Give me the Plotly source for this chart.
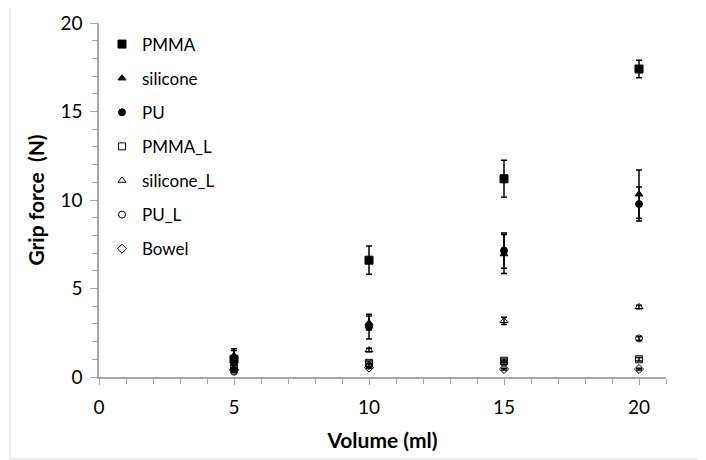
import plotly.graph_objects as go

volume = [5, 10, 15, 20]
pmma = [1.0, 6.6, 11.2, 17.4]
pmma_err = [0.6, 0.8, 1.05, 0.5]
silicone = [1.2, 3.05, 6.95, 10.33]
silicone_err = [0.3, 0.4, 1.1, 1.36]
pu = [0.8, 2.84, 7.14, 9.77]
pu_err = [0.3, 0.7, 1.0, 0.96]
pmma_l = [0.6, 0.8, 0.92, 1.0]
pmma_l_err = [0.1, 0.1, 0.1, 0.1]
silicone_l = [0.5, 1.52, 3.17, 3.96]
silicone_l_err = [0.05, 0.1, 0.2, 0.1]
pu_l = [0.3, 0.65, 0.8, 2.18]
pu_l_err = [0.05, 0.1, 0.1, 0.1]
bowel = [0.4, 0.53, 0.45, 0.45]
bowel_err = [0.05, 0.05, 0.05, 0.05]

series = [
    ("PMMA", pmma, pmma_err, "square", 8),
    ("silicone", silicone, silicone_err, "triangle-up", 7),
    ("PU", pu, pu_err, "circle", 7),
    ("PMMA_L", pmma_l, pmma_l_err, "square-open", 7),
    ("silicone_L", silicone_l, silicone_l_err, "triangle-up-open", 7),
    ("PU_L", pu_l, pu_l_err, "circle-open", 7),
    ("Bowel", bowel, bowel_err, "diamond-open", 7),
]

FONT = "Lato, 'Open Sans', sans-serif"
# page body has an 8px margin; plot area placed to match reference on screen
L, T, PW, PH = 91, 15, 567, 354
fig = go.Figure()
for i, (name, vals, errs, sym, sz) in enumerate(series):
    fig.add_trace(go.Scatter(
        x=volume, y=vals, name=name, mode="markers",
        legendgroup=f"g{i}",
        marker=dict(symbol=sym, size=sz, color="black", line=dict(color="black", width=1)),
        error_y=dict(type="data", array=errs, visible=True, color="black", thickness=1.5, width=3),
    ))

fig.update_layout(
    width=706, height=460,
    margin=dict(l=L, r=706 - L - PW, t=T, b=460 - T - PH, autoexpand=False),
    paper_bgcolor="white", plot_bgcolor="white",
    font=dict(family=FONT, size=19, color="black"),
    showlegend=True,
    legend=dict(x=3 / PW, y=0.99, xanchor="left", yanchor="top",
                bgcolor="rgba(0,0,0,0)", font=dict(size=17, family=FONT),
                traceorder="grouped", tracegroupgap=9, itemwidth=30),
    xaxis=dict(range=[0, 21], tickvals=[0, 5, 10, 15, 20], showgrid=False, zeroline=False,
               showline=True, linecolor="#a6a6a6", linewidth=1.5,
               ticks="outside", ticklen=6, tickcolor="#a6a6a6",
               minor=dict(dtick=1, ticks="outside", ticklen=5, tickcolor="#a6a6a6"),
               ticklabelstandoff=6, automargin=False,
               title=dict(text="<b>Volume (ml)</b>", font=dict(size=21, family=FONT), standoff=17)),
    yaxis=dict(range=[0, 20], tickvals=[0, 5, 10, 15, 20], showgrid=False, zeroline=False,
               showline=True, linecolor="#a6a6a6", linewidth=1.5,
               ticks="outside", ticklen=7, tickcolor="#a6a6a6",
               minor=dict(dtick=1, ticks="outside", ticklen=5, tickcolor="#a6a6a6"),
               ticklabelstandoff=4, automargin=False,
               title=dict(text="<b>Grip force  (N)</b>", font=dict(size=21, family=FONT), standoff=10)),
    shapes=[dict(type="rect", xref="paper", yref="paper",
                 x0=-(L - 2) / PW, x1=(692 - L) / PW, y0=-(451 - T - PH) / PH, y1=(T + PH + 5) / PH,
                 line=dict(color="#d9d9d9", width=1), layer="below")],
)

fig.write_html("out.html")
